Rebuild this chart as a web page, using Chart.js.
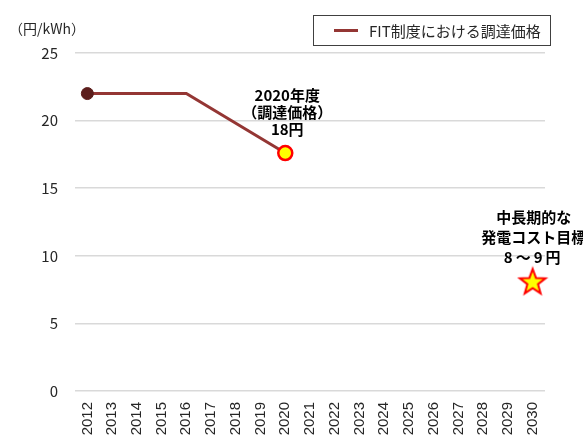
<!DOCTYPE html>
<html lang="ja">
<head>
<meta charset="utf-8">
<script src="https://cdn.jsdelivr.net/npm/chart.js@4.4.1/dist/chart.umd.min.js"></script>
<style>
  html, body { margin: 0; padding: 0; background: #fff; }
  #wrap { position: relative; width: 583px; height: 436px; }
  #legend {
    position: absolute; left: 313px; top: 15px; width: 238px; height: 31px;
    border: 1px solid #404040; box-sizing: border-box;
    font: 15px "Noto Sans CJK JP", sans-serif; color: #262626;
    display: flex; align-items: center; white-space: nowrap;
  }
  #legend .swatch {
    display: inline-block; width: 24px; height: 3px; background: #943634;
    margin-left: 20px; margin-right: 11px;
  }
</style>
</head>
<body>
<div id="wrap">
  <canvas id="chart" width="583" height="436"></canvas>
  <div id="legend"><span class="swatch"></span>FIT制度における調達価格</div>
</div>
<script>
const years = ['2012', '2013', '2014', '2015', '2016', '2017', '2018', '2019', '2020', '2021',
               '2022', '2023', '2024', '2025', '2026', '2027', '2028', '2029', '2030'];
// FIT procurement price (yen/kWh), only the years marked in the picture
const fitPrice = [22, null, null, null, 22, null, null, null, 17.6, null,
                  null, null, null, null, null, null, null, null, null];
// mid/long-term generation cost target
const costTarget = [null, null, null, null, null, null, null, null, null, null,
                    null, null, null, null, null, null, null, null, 8.1];
const yTicks = [0, 5, 10, 15, 20, 25];
const unitLabel = '（円/kWh）';
const fitNote = ['2020年度', '（調達価格）', '18円'];
const targetNote = ['中長期的な', '発電コスト目標', '8～9円'];

const FONT = '"Noto Sans CJK JP", sans-serif';

// filled star used as the point style for the 2030 target
function makeStar() {
  const c = document.createElement('canvas');
  c.width = 32; c.height = 32;
  const g = c.getContext('2d');
  const cx = 16, cy = 17, outer = 13.5, inner = 5.6;
  g.beginPath();
  for (let i = 0; i < 10; i++) {
    const r = i % 2 === 0 ? outer : inner;
    const a = -Math.PI / 2 + i * Math.PI / 5;
    const x = cx + r * Math.cos(a), y = cy + r * Math.sin(a);
    if (i === 0) g.moveTo(x, y); else g.lineTo(x, y);
  }
  g.closePath();
  g.fillStyle = '#ffff00';
  g.fill();
  g.lineWidth = 2;
  g.strokeStyle = '#ff0000';
  g.stroke();
  return c;
}

const notesPlugin = {
  id: 'notes',
  afterDraw(chart) {
    const ctx = chart.ctx;
    const x = chart.scales.x, y = chart.scales.y;
    ctx.save();
    // unit label
    ctx.font = '14px ' + FONT;
    ctx.fillStyle = '#262626';
    ctx.textAlign = 'left';
    ctx.textBaseline = 'middle';
    ctx.fillText(unitLabel, 9, 29);

    ctx.font = 'bold 15px ' + FONT;
    ctx.fillStyle = '#000';
    ctx.textAlign = 'center';
    const i1 = 8;
    const px1 = x.getPixelForValue(i1) + 2, py1 = y.getPixelForValue(fitPrice[i1]);
    [-58, -41, -24].forEach((d, k) => ctx.fillText(fitNote[k], px1, py1 + d));
    const i2 = 18;
    const px2 = x.getPixelForValue(i2) + 1, py2 = y.getPixelForValue(costTarget[i2]);
    [-64, -44, -24].forEach((d, k) => {
      ctx.letterSpacing = k === 2 ? '3px' : '0px';
      ctx.fillText(targetNote[k], px2, py2 + d);
    });
    ctx.restore();
  }
};

const pointRadius = fitPrice.map((v, i) => i === 0 ? 6 : (i === 8 ? 7 : 0));
const pointFill = fitPrice.map((v, i) => i === 8 ? '#ffff00' : '#5c1e1c');
const pointBorder = fitPrice.map((v, i) => i === 8 ? '#ff0000' : '#5c1e1c');
const pointBorderW = fitPrice.map((v, i) => i === 8 ? 2.5 : 1);

new Chart(document.getElementById('chart'), {
  type: 'line',
  data: {
    labels: years,
    datasets: [{
      label: 'FIT制度における調達価格',
      data: fitPrice,
      spanGaps: true,
      borderColor: '#943634',
      borderWidth: 3,
      tension: 0,
      pointRadius: pointRadius,
      pointBackgroundColor: pointFill,
      pointBorderColor: pointBorder,
      pointBorderWidth: pointBorderW
    }, {
      label: '発電コスト目標',
      data: costTarget,
      showLine: false,
      pointStyle: makeStar(),
      pointRadius: 14
    }]
  },
  options: {
    responsive: false,
    animation: false,
    layout: { padding: { top: 53, right: 38, left: 0, bottom: 0 } },
    plugins: {
      legend: { display: false },
      tooltip: { enabled: false }
    },
    scales: {
      x: {
        offset: true,
        grid: { display: false, drawTicks: false },
        border: { display: false },
        ticks: {
          autoSkip: false,
          minRotation: 90,
          maxRotation: 90,
          padding: 11,
          color: '#262626',
          font: { size: 15, family: '"Liberation Sans", Arial, sans-serif' }
        },
        afterFit(scale) { scale.height = 45; }
      },
      y: {
        min: 0,
        max: 25,
        afterBuildTicks(scale) { scale.ticks = yTicks.map(v => ({ value: v })); },
        grid: { color: '#d9d9d9', lineWidth: 1.5, drawTicks: false },
        border: { display: false },
        ticks: {
          padding: 17,
          color: '#262626',
          font: { size: 15, family: FONT }
        },
        afterFit(scale) { scale.width = 75; }
      }
    }
  },
  plugins: [notesPlugin]
});
</script>
</body>
</html>
